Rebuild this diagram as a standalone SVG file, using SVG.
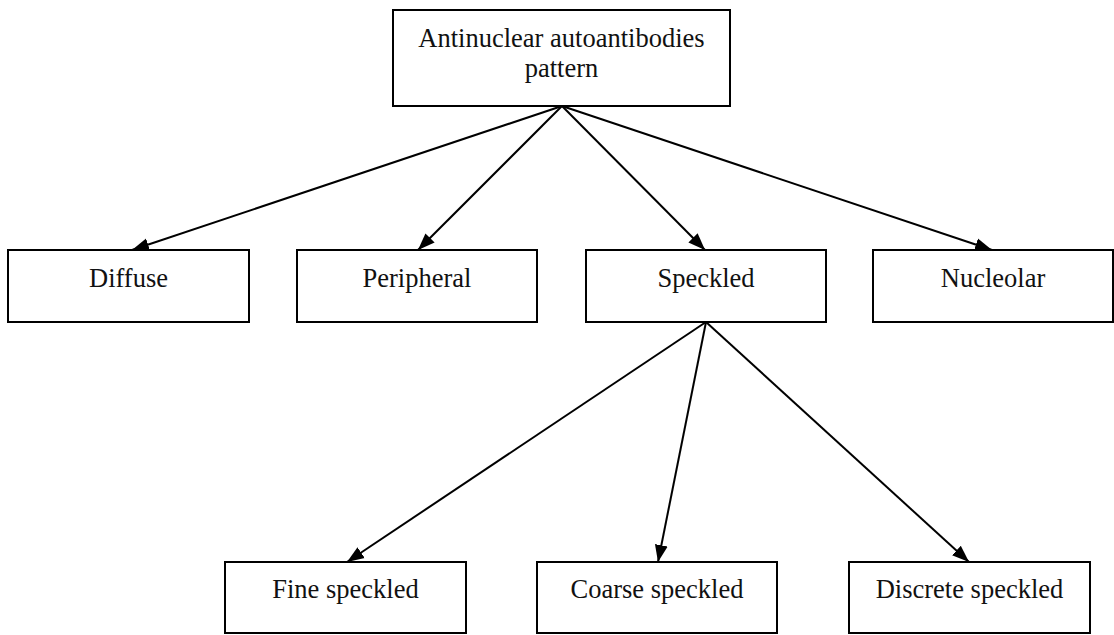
<svg xmlns="http://www.w3.org/2000/svg" width="1114" height="635" viewBox="0 0 1114 635">
<style>
rect.box{fill:#fff;stroke:#000;stroke-width:2}
text{font-family:"Liberation Serif","Times New Roman",serif;font-size:26.5px;fill:#111;text-anchor:middle}
#connectors line{stroke:#000;stroke-width:2}
</style>
<defs>
<marker id="ah" markerUnits="userSpaceOnUse" markerWidth="20" markerHeight="14" refX="17" refY="7" orient="auto">
<path d="M0,0.5 L17,7 L0,13.5 z" fill="#000"/>
</marker>
</defs>
<rect width="1114" height="635" fill="#fff"/>
<g id="connectors">
<line x1="562" y1="106" x2="132" y2="250" marker-end="url(#ah)"/>
<line x1="562" y1="106" x2="418" y2="250" marker-end="url(#ah)"/>
<line x1="562" y1="106" x2="705" y2="250" marker-end="url(#ah)"/>
<line x1="562" y1="106" x2="992" y2="250" marker-end="url(#ah)"/>
<line x1="706" y1="322" x2="347" y2="562" marker-end="url(#ah)"/>
<line x1="706" y1="322" x2="658" y2="562" marker-end="url(#ah)"/>
<line x1="706" y1="322" x2="969" y2="562" marker-end="url(#ah)"/>
</g>
<g id="root">
<rect class="box" x="393" y="10" width="337" height="96"/>
<text x="561.5" y="47">Antinuclear autoantibodies</text>
<text x="561.5" y="77">pattern</text>
</g>
<g id="diffuse">
<rect class="box" x="8" y="250" width="241" height="72"/>
<text x="128.5" y="287">Diffuse</text>
</g>
<g id="peripheral">
<rect class="box" x="297" y="250" width="240" height="72"/>
<text x="417" y="287">Peripheral</text>
</g>
<g id="speckled">
<rect class="box" x="586" y="250" width="240" height="72"/>
<text x="706" y="287">Speckled</text>
</g>
<g id="nucleolar">
<rect class="box" x="873" y="250" width="240" height="72"/>
<text x="993" y="287">Nucleolar</text>
</g>
<g id="fine">
<rect class="box" x="225" y="562" width="241" height="71"/>
<text x="345.5" y="598">Fine speckled</text>
</g>
<g id="coarse">
<rect class="box" x="537" y="562" width="240" height="71"/>
<text x="657" y="598">Coarse speckled</text>
</g>
<g id="discrete">
<rect class="box" x="849" y="562" width="241" height="71"/>
<text x="969.5" y="598">Discrete speckled</text>
</g>
</svg>
